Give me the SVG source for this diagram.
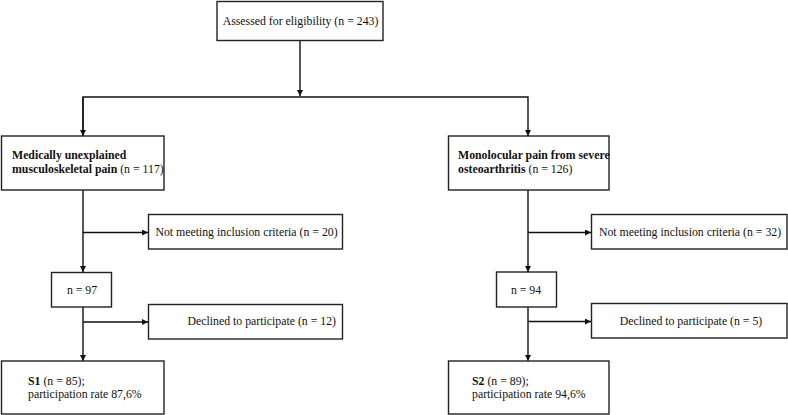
<svg xmlns="http://www.w3.org/2000/svg" width="788" height="415" viewBox="0 0 788 415">
<style>
.box{fill:#fff;stroke:#222;stroke-width:1.4}
.ln{fill:none;stroke:#111;stroke-width:1.4}
text{font-family:'Liberation Serif','Times New Roman',Times,serif;font-size:11.8px;fill:#111}
.b{font-weight:bold}
</style>
<defs>
<marker id="ah" viewBox="0 0 10 10" refX="10" refY="5" markerWidth="6" markerHeight="6" markerUnits="userSpaceOnUse" orient="auto">
<path d="M0,0 L10,5 L0,10 z" fill="#111"/>
</marker>
</defs>
<g id="connectors">
<path class="ln" d="M300,41 V96" marker-end="url(#ah)"/>
<path class="ln" d="M83,136 V97 H528 V136" marker-end="url(#ah)"/>
<path class="ln" d="M83,97 V136" marker-end="url(#ah)"/>
<path class="ln" d="M83,190 V272" marker-end="url(#ah)"/>
<path class="ln" d="M83,232.5 H148" marker-end="url(#ah)"/>
<path class="ln" d="M528,190 V272" marker-end="url(#ah)"/>
<path class="ln" d="M528,232.5 H591" marker-end="url(#ah)"/>
<path class="ln" d="M83,307 V361" marker-end="url(#ah)"/>
<path class="ln" d="M83,322 H148" marker-end="url(#ah)"/>
<path class="ln" d="M528,307 V361" marker-end="url(#ah)"/>
<path class="ln" d="M528,321.5 H591" marker-end="url(#ah)"/>
</g>
<g id="assessed">
<rect class="box" x="217" y="1.5" width="166" height="39"/>
<text x="300.5" y="24.5" text-anchor="middle">Assessed for eligibility (n = 243)</text>
</g>
<g id="mups">
<rect class="box" x="1.5" y="136" width="162.5" height="54"/>
<text x="12" y="159"><tspan class="b">Medically unexplained</tspan></text>
<text x="12" y="172.5"><tspan class="b">musculoskeletal pain</tspan> (n = 117)</text>
</g>
<g id="oa">
<rect class="box" x="448.5" y="136" width="160.5" height="54"/>
<text x="458" y="159"><tspan class="b">Monolocular pain from severe</tspan></text>
<text x="458" y="172.5"><tspan class="b">osteoarthritis</tspan> (n = 126)</text>
</g>
<g id="excl1">
<rect class="box" x="148.5" y="214.5" width="194" height="34.5"/>
<text x="246.5" y="235.5" text-anchor="middle">Not meeting inclusion criteria (n = 20)</text>
</g>
<g id="excl2">
<rect class="box" x="591.5" y="214.5" width="195.5" height="34.5"/>
<text x="690" y="235.5" text-anchor="middle">Not meeting inclusion criteria (n = 32)</text>
</g>
<g id="n97">
<rect class="box" x="51.5" y="272.5" width="60" height="34.5"/>
<text x="82" y="294" text-anchor="middle">n = 97</text>
</g>
<g id="n94">
<rect class="box" x="496.5" y="272" width="60" height="35"/>
<text x="526" y="294" text-anchor="middle">n = 94</text>
</g>
<g id="decl1">
<rect class="box" x="148.5" y="304.5" width="194" height="34.5"/>
<text x="336" y="325" text-anchor="end">Declined to participate (n = 12)</text>
</g>
<g id="decl2">
<rect class="box" x="591.5" y="303.5" width="195.5" height="34.5"/>
<text x="691" y="324.5" text-anchor="middle">Declined to participate (n = 5)</text>
</g>
<g id="s1">
<rect class="box" x="1.5" y="361" width="162.5" height="53"/>
<text x="28" y="384.5"><tspan class="b">S1</tspan> (n = 85);</text>
<text x="28" y="397.5">participation rate 87,6%</text>
</g>
<g id="s2">
<rect class="box" x="448.5" y="361" width="160.5" height="53"/>
<text x="472" y="384.5"><tspan class="b">S2</tspan> (n = 89);</text>
<text x="472" y="397.5">participation rate 94,6%</text>
</g>
</svg>
